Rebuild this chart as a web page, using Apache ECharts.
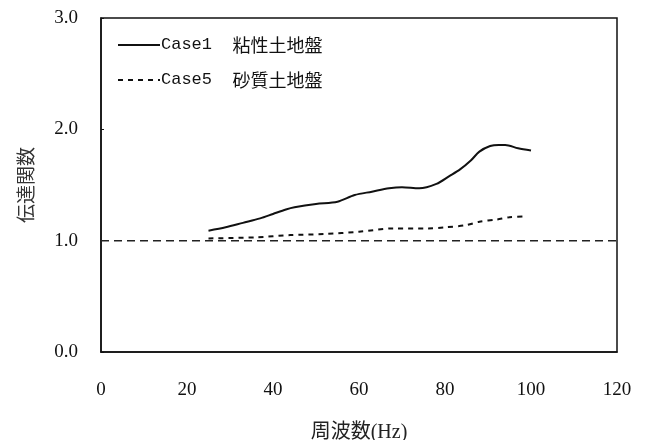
<!DOCTYPE html>
<html>
<head>
<meta charset="utf-8">
<script src="https://cdn.jsdelivr.net/npm/echarts@6/dist/echarts.min.js"></script>
<style>
  html, body { margin: 0; padding: 0; background: #fff; }
  #chart { width: 648px; height: 440px; }
</style>
</head>
<body>
<div id="chart"></div>
<script>
// Transfer function vs. frequency for two ground conditions
const xTicks = [0, 20, 40, 60, 80, 100, 120];
const yTicks = [0.0, 1.0, 2.0, 3.0];

const case1Name = 'Case1 粘性土地盤';
const case1Freq = [25, 29, 33, 37, 40, 43, 45, 50, 55, 59, 63, 67, 70, 74, 78, 81, 83.5, 86, 88, 90.5, 92.5, 94, 97, 100];
const case1Value = [1.09, 1.12, 1.16, 1.20, 1.24, 1.28, 1.30, 1.33, 1.35, 1.41, 1.44, 1.47, 1.48, 1.47, 1.51, 1.58, 1.64, 1.72, 1.80, 1.85, 1.86, 1.86, 1.83, 1.81];

const case5Name = 'Case5 砂質土地盤';
const case5Freq = [25, 36, 44, 52, 60, 68, 76, 80, 85, 88, 92, 95, 99];
const case5Value = [1.02, 1.03, 1.05, 1.06, 1.08, 1.11, 1.11, 1.12, 1.14, 1.17, 1.19, 1.21, 1.22];

// Baseline: transfer function = 1.0 across the full frequency range
const baseFreq = [0, 120];
const baseValue = [1.0, 1.0];

const pairs = (xs, ys) => xs.map((x, i) => [x, ys[i]]);

const serif = '"Liberation Serif", "DejaVu Serif", serif';
const cjk = '"Noto Sans CJK JP", sans-serif';

const chart = echarts.init(document.getElementById('chart'), null, { renderer: 'canvas' });

chart.setOption({
  animation: false,
  backgroundColor: '#ffffff',
  grid: {
    left: 101, right: 31, top: 18, bottom: 88,
    outerBoundsMode: 'none',
    containLabel: false,
    show: true, borderColor: '#111', borderWidth: 1.5, backgroundColor: 'transparent'
  },
  legend: {
    orient: 'vertical',
    left: 112, top: 31,
    itemWidth: 42, itemHeight: 14, itemGap: 17,
    data: [case1Name, case5Name],
    itemStyle: { opacity: 0 },
    lineStyle: { opacity: 1 },
    formatter: name => {
      const [a, b] = name.split(' ');
      return '{a|' + a + '  }{b|' + b + '}';
    },
    textStyle: {
      color: '#111',
      padding: [0, 0, 0, -4],
      rich: {
        a: { fontFamily: '"Liberation Mono", monospace', fontSize: 17, lineHeight: 21, color: '#111' },
        b: { fontFamily: cjk, fontSize: 18, lineHeight: 21, color: '#111' }
      }
    }
  },
  xAxis: {
    type: 'value',
    min: xTicks[0], max: xTicks[xTicks.length - 1], interval: 20,
    name: '周波数(Hz)',
    nameLocation: 'middle', nameGap: 71,
    nameTextStyle: { fontFamily: serif + ', ' + cjk, fontSize: 20, color: '#222' },
    axisLine: { lineStyle: { color: '#111', width: 1.5 } },
    axisTick: { show: false },
    splitLine: { show: false },
    axisLabel: {
      margin: 29, fontFamily: serif, fontSize: 19, color: '#111',
      formatter: v => String(v)
    }
  },
  yAxis: {
    type: 'value',
    min: yTicks[0], max: yTicks[yTicks.length - 1], interval: 1,
    name: '伝達関数',
    nameLocation: 'middle', nameGap: 66, nameRotate: 90,
    nameTextStyle: { fontFamily: cjk, fontSize: 19, color: '#333' },
    axisLine: { show: true, lineStyle: { color: '#111', width: 1.5 } },
    axisTick: { show: true, inside: true, length: 3, lineStyle: { color: '#111' } },
    splitLine: { show: false },
    axisLabel: {
      margin: 23, fontFamily: serif, fontSize: 19, color: '#111',
      formatter: v => v.toFixed(1)
    }
  },
  series: [
    {
      name: case1Name,
      type: 'line',
      data: pairs(case1Freq, case1Value),
      symbol: 'none',
      smooth: 0.3,
      lineStyle: { color: '#111', width: 2, type: 'solid' },
      itemStyle: { color: '#111' }
    },
    {
      name: case5Name,
      type: 'line',
      data: pairs(case5Freq, case5Value),
      symbol: 'none',
      smooth: 0.3,
      lineStyle: { color: '#111', width: 2, type: [5, 5] },
      itemStyle: { color: '#111' }
    },
    {
      name: 'baseline',
      type: 'line',
      data: pairs(baseFreq, baseValue),
      symbol: 'none',
      lineStyle: { color: '#222', width: 1.5, type: [8, 5] },
      itemStyle: { color: '#222' },
      silent: true
    }
  ]
});
</script>
</body>
</html>
